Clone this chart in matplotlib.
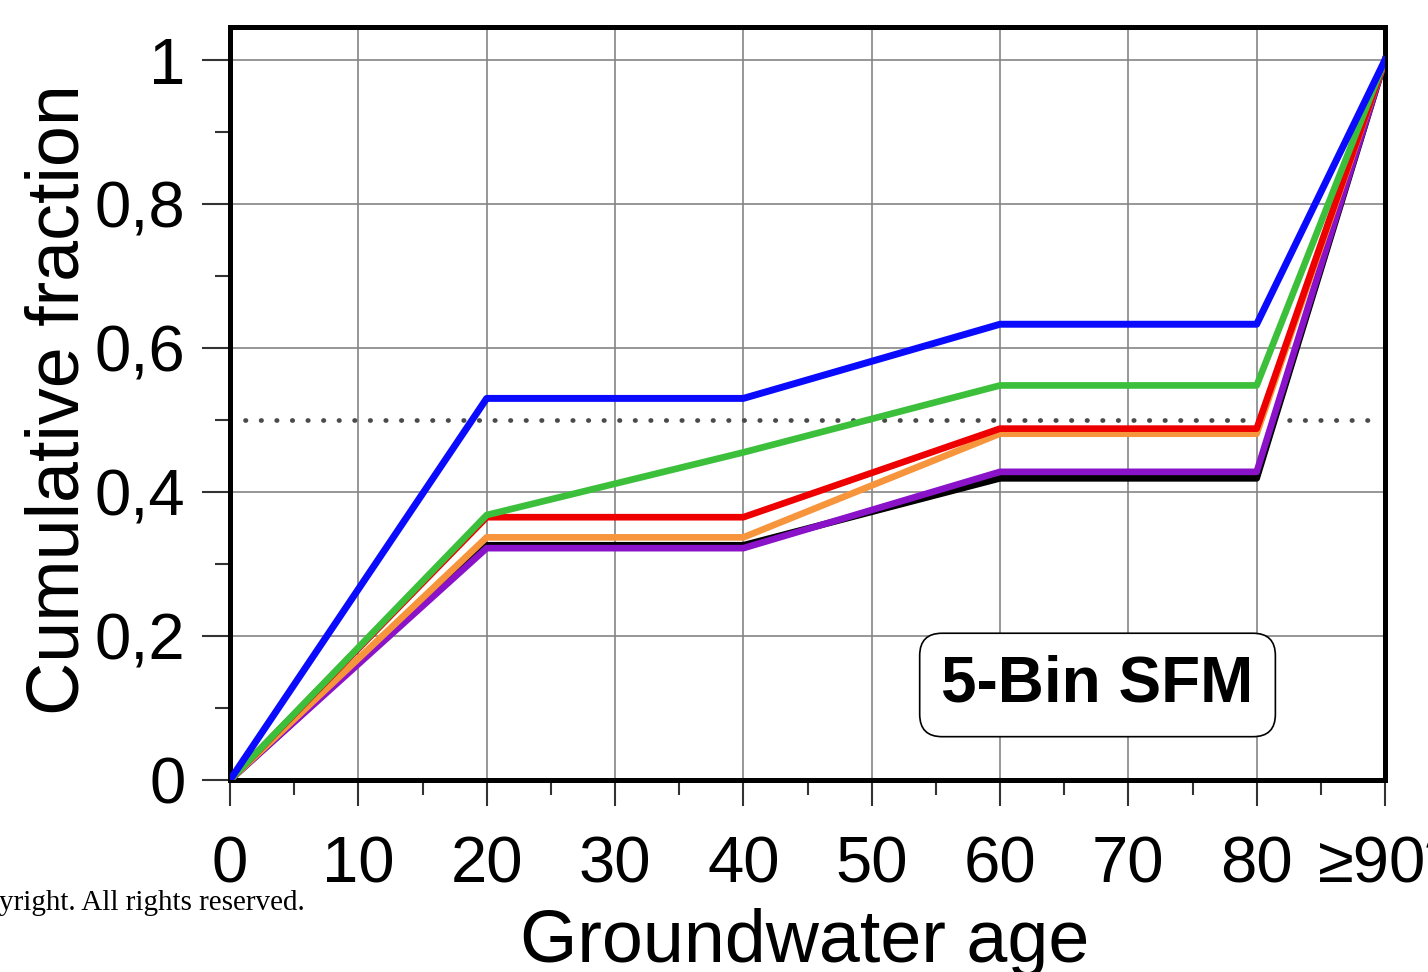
import matplotlib
matplotlib.use("Agg")
import matplotlib.pyplot as plt
from matplotlib.ticker import MultipleLocator, FixedLocator

# groundwater age bins (x) and cumulative fractions per scenario
ages = [0, 20, 40, 60, 80, 90]
blue_vals = [0, 0.530, 0.530, 0.633, 0.633, 1.0]
green_vals = [0, 0.368, 0.455, 0.548, 0.548, 1.0]
red_vals = [0, 0.365, 0.365, 0.488, 0.488, 1.0]
orange_vals = [0, 0.337, 0.337, 0.481, 0.481, 1.0]
black_vals = [0, 0.326, 0.326, 0.419, 0.419, 1.0]
purple_vals = [0, 0.322, 0.322, 0.428, 0.428, 1.0]

x_ticks = [0, 10, 20, 30, 40, 50, 60, 70, 80, 90]
x_labels = ["0", "10", "20", "30", "40", "50", "60", "70", "80", "\u226590*"]
y_ticks = [0, 0.2, 0.4, 0.6, 0.8, 1.0]
y_labels = ["0", "0,2", "0,4", "0,6", "0,8", "1"]

plt.rcParams["font.family"] = ["Liberation Sans", "DejaVu Sans"]

fig = plt.figure(figsize=(14.28, 9.72), dpi=100)
W, H = 1428, 972
ax = fig.add_axes([230 / W, 1 - 780 / H, (1385 - 230) / W, (780 - 27) / H])

# grid
for gx in x_ticks[1:-1]:
    ax.axvline(gx, color="#858585", lw=1.2, zorder=1)
for gy in y_ticks[1:-1] + [1.0]:
    ax.axhline(gy, color="#858585", lw=1.2, zorder=1)

# 50% reference line
ax.plot([1.2, 88.8], [0.5, 0.5], color="#4a4a4a", lw=3.4,
        linestyle=(0, (0.1, 3.2)), dash_capstyle="round", zorder=2)

ax.plot(ages, black_vals, color="black", lw=4.8, zorder=3)
ax.plot(ages, purple_vals, color="#8a12c8", lw=4.8, zorder=4)
ax.plot(ages, orange_vals, color="#f7953d", lw=4.8, zorder=5)
ax.plot(ages, red_vals, color="#ee0000", lw=4.8, zorder=6)
ax.plot(ages, green_vals, color="#3cc03c", lw=4.8, zorder=7)
ax.plot(ages, blue_vals, color="#0a0aff", lw=5, zorder=8)

ax.set_xlim(0, 90)
ax.set_ylim(0, (780 - 27) / 720)

ax.xaxis.set_major_locator(FixedLocator(x_ticks))
ax.set_xticklabels(x_labels)
ax.xaxis.set_minor_locator(MultipleLocator(5))
ax.yaxis.set_major_locator(FixedLocator(y_ticks))
ax.set_yticklabels(y_labels)
ax.yaxis.set_minor_locator(MultipleLocator(0.1))

ax.tick_params(axis="both", which="both", direction="out", width=1.5,
               color="#333333", labelsize=47)
ax.tick_params(axis="x", which="major", length=19, pad=21)
ax.tick_params(axis="x", which="minor", length=11)
ax.tick_params(axis="y", which="major", length=20, pad=12)
ax.tick_params(axis="y", which="minor", length=11)

for s in ax.spines.values():
    s.set_linewidth(3.6)

ax.text(67.6, 0.132, "5-Bin SFM", fontsize=46, fontweight="bold",
        ha="center", va="center", zorder=10,
        bbox=dict(boxstyle="round,pad=0.34,rounding_size=0.35",
                  fc="white", ec="black", lw=1.2))

fig.text(59 / W, 1 - 400 / H, "Cumulative fraction", rotation=90,
         fontsize=53, ha="center", va="center")
fig.text(805 / W, 1 - 962 / H, "Groundwater age", fontsize=53,
         ha="center", va="baseline")
fig.text(305 / W, 1 - 910 / H, "yright. All rights reserved.",
         fontsize=21, family="Liberation Serif", ha="right", va="baseline")

fig.savefig("out.png", dpi=100)
